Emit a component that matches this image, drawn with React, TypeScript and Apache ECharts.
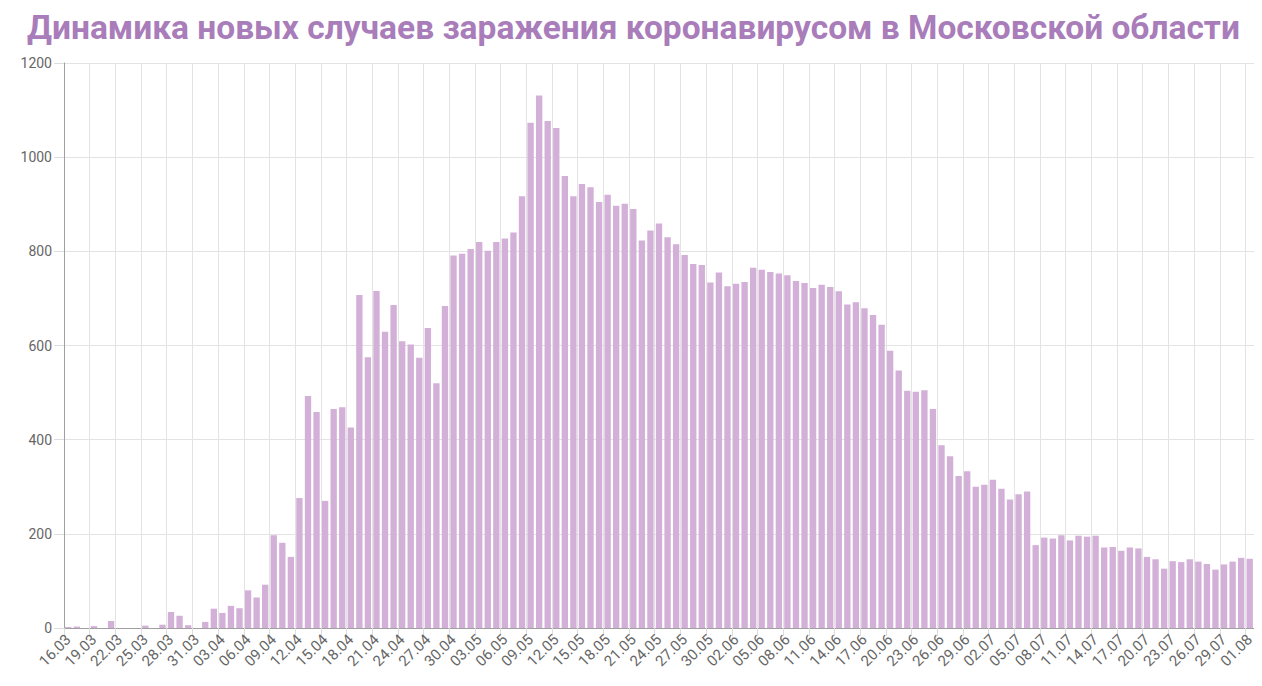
import React, { useEffect, useRef } from "react";
import * as echarts from "echarts";

const titleText = "Динамика новых случаев заражения коронавирусом в Московской области";

const startMonthDays: [number, number, number][] = [
  [16, 3, 31],
  [1, 4, 30],
  [1, 5, 31],
  [1, 6, 30],
  [1, 7, 31],
  [1, 8, 1],
];

function buildDates(): string[] {
  const out: string[] = [];
  for (const [from, month, to] of startMonthDays) {
    for (let d = from; d <= to; d++) {
      out.push(String(d).padStart(2, "0") + "." + String(month).padStart(2, "0"));
    }
  }
  return out;
}

const categories = buildDates();

const casesMarch = [2, 3, 0, 4, 0, 15, 0, 0, 0, 5, 0, 7, 34, 26, 6, 0];
const casesApril = [
  13, 41, 32, 47, 42, 80, 65, 92, 197, 181, 151, 276, 493, 459, 270, 465, 469, 426, 707, 575,
  716, 629, 686, 609, 602, 574, 637, 520, 684, 791,
];
const casesMay = [
  795, 805, 820, 801, 820, 827, 840, 917, 1073, 1131, 1077, 1062, 960, 917, 943, 936, 905, 920,
  897, 901, 890, 823, 844, 859, 830, 815, 792, 773, 771, 734, 755,
];
const casesJune = [
  726, 731, 735, 765, 761, 756, 753, 749, 737, 733, 722, 729, 724, 715, 687, 692, 679, 665, 644,
  589, 547, 504, 502, 505, 465, 388, 365, 323, 333, 300,
];
const casesJuly = [
  304, 315, 296, 273, 284, 290, 176, 192, 190, 197, 186, 196, 194, 196, 171, 172, 164, 171, 169,
  151, 146, 126, 142, 140, 146, 141, 136, 124, 135, 141, 149,
];
const casesAugust = [147];

const cases = [...casesMarch, ...casesApril, ...casesMay, ...casesJune, ...casesJuly, ...casesAugust];

const yMin = 0;
const yMax = 1200;
const yInterval = 200;

export default function App() {
  const ref = useRef<HTMLDivElement>(null);
  useEffect(() => {
    if (!ref.current) return;
    const chart = echarts.init(ref.current, undefined, { renderer: "svg" });
    chart.setOption({
      animation: false,
      backgroundColor: "#ffffff",
      title: {
        text: titleText,
        left: 22,
        top: 5,
        textStyle: {
          fontFamily: "Roboto",
          fontWeight: "bold",
          fontSize: 33.5,
          color: "#a97cba",
        },
      },
      grid: { left: 64, right: 8, top: 63, bottom: 58, containLabel: false },
      xAxis: {
        type: "category",
        data: categories,
        boundaryGap: true,
        axisLine: { show: true, lineStyle: { color: "#a0a0a0", width: 1 } },
        axisTick: { show: true, length: 8, interval: 2, lineStyle: { color: "#dddddd" } },
        axisLabel: {
          interval: 2,
          rotate: 45,
          fontFamily: "Roboto",
          fontSize: 15,
          color: "#666666",
          margin: 9,
          hideOverlap: false,
        },
        splitLine: { show: true, interval: 2, lineStyle: { color: "#e3e3e3", width: 1 } },
      },
      yAxis: {
        type: "value",
        min: yMin,
        max: yMax,
        interval: yInterval,
        axisLine: { show: true, lineStyle: { color: "#a0a0a0", width: 1 } },
        axisTick: { show: true, length: 10, lineStyle: { color: "#dddddd" } },
        axisLabel: {
          fontFamily: "Roboto",
          fontSize: 14,
          color: "#666666",
          margin: 12,
          formatter: (v: number) => String(v),
        },
        splitLine: { show: true, lineStyle: { color: "#e3e3e3", width: 1 } },
      },
      series: [
        {
          type: "bar",
          data: cases,
          barWidth: "74%",
          itemStyle: { color: "#d3b0d7" },
        },
      ],
    });
    return () => chart.dispose();
  }, []);
  return <div ref={ref} style={{ width: 1262, height: 686, margin: -8 }} />;
}
